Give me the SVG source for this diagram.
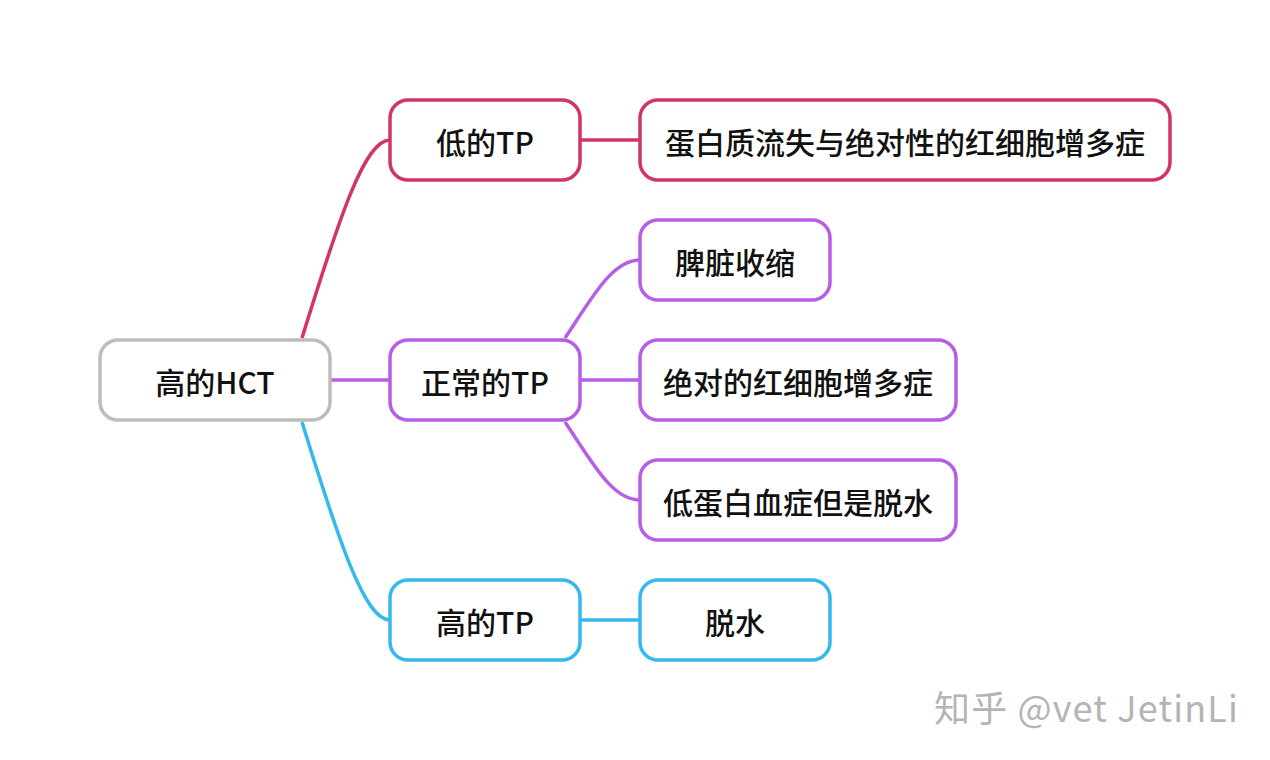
<svg xmlns="http://www.w3.org/2000/svg" width="1270" height="760" viewBox="0 0 1270 760">
<style>
.n rect{fill:#fff;stroke-width:3.5}
.t{font-family:"Noto Sans CJK SC","Liberation Sans",sans-serif;font-size:30px;font-weight:500;fill:#111;text-anchor:middle;dominant-baseline:central}
.gray rect{stroke:#bdbdbd}
.red rect{stroke:#d1336a}
.pur rect{stroke:#b65ee6}
.cy rect{stroke:#35b8ea}
.c path{fill:none;stroke-width:3.5}
.wm{font-family:"Noto Sans CJK SC","Liberation Sans",sans-serif;font-size:36px;fill:#b4b4b4}
</style>
<rect width="1270" height="760" fill="#fff"/>
<g id="connectors" class="c">
<path d="M302,338 C340,215 365,140 390,140" stroke="#d1336a"/>
<path d="M330,380 L390,380" stroke="#b65ee6"/>
<path d="M302,422 C340,545 365,620 390,620" stroke="#35b8ea"/>
<path d="M580,140 L640,140" stroke="#d1336a"/>
<path d="M565,338 C592,298 612,260 640,260" stroke="#b65ee6"/>
<path d="M580,380 L640,380" stroke="#b65ee6"/>
<path d="M565,422 C592,462 612,500 640,500" stroke="#b65ee6"/>
<path d="M580,620 L640,620" stroke="#35b8ea"/>
</g>
<g id="root" class="n gray"><rect x="100" y="340" width="230" height="80" rx="18"/><text class="t" x="215" y="381">高的HCT</text></g>
<g id="lowTP" class="n red"><rect x="390" y="100" width="190" height="80" rx="18"/><text class="t" x="485" y="141">低的TP</text></g>
<g id="normTP" class="n pur"><rect x="390" y="340" width="190" height="80" rx="18"/><text class="t" x="485" y="381">正常的TP</text></g>
<g id="highTP" class="n cy"><rect x="390" y="580" width="190" height="80" rx="18"/><text class="t" x="485" y="621">高的TP</text></g>
<g id="loss" class="n red"><rect x="640" y="100" width="530" height="80" rx="18"/><text class="t" x="905" y="141">蛋白质流失与绝对性的红细胞增多症</text></g>
<g id="spleen" class="n pur"><rect x="640" y="220" width="190" height="80" rx="18"/><text class="t" x="735" y="261">脾脏收缩</text></g>
<g id="abs" class="n pur"><rect x="640" y="340" width="316" height="80" rx="18"/><text class="t" x="798" y="381">绝对的红细胞增多症</text></g>
<g id="hypo" class="n pur"><rect x="640" y="460" width="316" height="80" rx="18"/><text class="t" x="798" y="501">低蛋白血症但是脱水</text></g>
<g id="dehyd" class="n cy"><rect x="640" y="580" width="190" height="80" rx="18"/><text class="t" x="735" y="621">脱水</text></g>
<g id="watermark">
<text class="wm" x="934" y="722" style="fill:#fff" transform="translate(1,1)" textLength="304">知乎 @vet JetinLi</text>
<text class="wm" x="934" y="722" textLength="304">知乎 @vet JetinLi</text>
</g>
</svg>
